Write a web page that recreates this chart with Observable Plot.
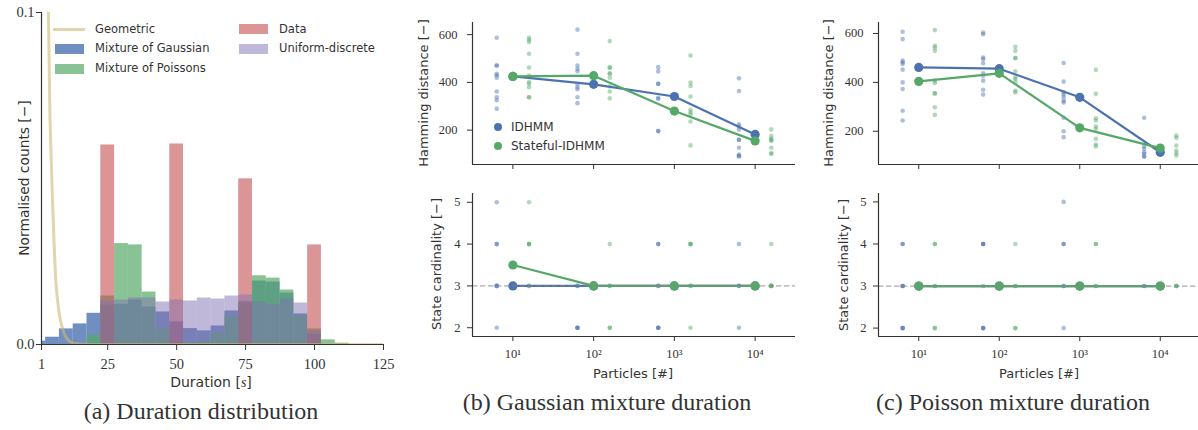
<!DOCTYPE html>
<html>
<head>
<meta charset="utf-8">
<script src="https://cdn.jsdelivr.net/npm/d3@7"></script>
<script src="https://cdn.jsdelivr.net/npm/@observablehq/plot@0.6"></script>
<style>
  html,body{margin:0;padding:0;background:#fff;}
  #root{position:relative;width:1198px;height:430px;overflow:hidden;background:#fff;}
  #root svg{position:absolute;overflow:visible;}
  .t{position:absolute;white-space:nowrap;color:#333;line-height:1;}
  .sw{position:absolute;}
</style>
</head>
<body>
<div id="root"></div>
<script>
// ================= DATA =================
// (a) Duration distribution — histogram bin centres [s] (bin width 5) and normalised counts
const binCenters     = [0, 5, 10, 15, 20, 25, 30, 35, 40, 45, 50, 55, 60, 65, 70, 75, 80, 85, 90, 95, 100, 105, 110];
const gaussCounts    = [0.0010,0.0022,0.0047,0.0062,0.0094,0.0119,0.0121,0.0134,0.0113,0.0098,0.0068,0.0048,0.0041,0.0056,0.0101,0.0125,0.0191,0.0188,0.0155,0.0092,0.0030,0,0];
const poissonCounts  = [0,0,0,0,0.0028,0.0146,0.0304,0.0300,0.0158,0.0048,0.0010,0.0005,0.0010,0.0036,0.0086,0.0130,0.0207,0.0200,0.0164,0.0086,0.0047,0.0014,0.0004];
const dataCounts     = [0,0,0,0,0,0.0601,0,0,0,0,0.0604,0,0,0,0,0.0499,0,0,0,0,0.0300,0,0];
const uniformCounts  = [0,0,0,0,0,0.0131,0.0134,0.0140,0.0140,0.0128,0.0134,0.0131,0.0140,0.0137,0.0146,0.0149,0.0128,0.0120,0.0137,0.0125,0.0040,0,0];
// geometric duration pmf (line)
const geomDuration   = [1, 2, 3, 3.5, 4, 4.5, 5, 5.5, 6, 6.5, 7, 7.5, 8, 9, 10, 11, 12, 14, 17, 20, 125];
const geomProb       = [0.45,0.25,0.135,0.1,0.072,0.056,0.043,0.032,0.022,0.016,0.012,0.009,0.0068,0.0038,0.002,0.0011,0.0006,0.0002,0.00005,0,0];
const durationTicks  = [1, 25, 50, 75, 100, 125];
const countTicks     = [0, 0.1];

// (b),(c) experiments
const particles = [10, 100, 1000, 10000];
const hammingTicks = [200, 400, 600];
const cardinalityTicks = [2, 3, 4, 5];
const trueCardinality = 3;

// (b) Gaussian mixture duration — Hamming distance per run
const gaussIdhmmHamming = [
  [587, 471, 471, 436, 430, 420, 362, 338, 325, 290],
  [621, 520, 471, 457, 447, 392, 380, 371, 338, 313],
  [464, 446, 394, 394, 336, 330, 196, 196],
  [417, 364, 224, 215, 202, 160, 160, 126, 98, 91, 91]
];
const gaussStatefulHamming = [
  [587, 578, 569, 520, 462, 429, 401, 394, 380, 338, 338],
  [573, 462, 462, 437, 437, 420, 383, 362, 333],
  [513, 399, 385, 341, 285, 275, 266, 236, 136],
  [203, 175, 164, 157, 157, 126, 104, 100]
];
const gaussIdhmmHammingMean    = [425, 392, 341, 182];
const gaussStatefulHammingMean = [425, 428, 280, 155];
// (b) state cardinality per run
const gaussIdhmmCard = [[5,4,4,3,3,3,2],[3,3,2,2,2],[4,4,3,3,2,2,2],[4,3,3,2]];
const gaussStatefulCard = [[5,4,4,4,3,3],[4,3,3,2,2],[4,4,4,3,3,2],[4,3,3,3,3]];
const gaussIdhmmCardMean = [3, 3, 3, 3];
const gaussStatefulCardMean = [3.5, 3, 3, 3];

// (c) Poisson mixture duration — Hamming distance per run
const poisIdhmmHamming = [
  [607, 577, 489, 482, 475, 452, 400, 373, 284, 244],
  [604, 597, 502, 495, 478, 437, 427, 407, 370, 350],
  [479, 403, 359, 350, 339, 325, 318, 255, 200, 176],
  [255, 138, 128, 114, 108, 97, 97]
];
const poisStatefulHamming = [
  [614, 550, 543, 529, 407, 397, 355, 355, 298, 267],
  [546, 529, 500, 500, 445, 420, 414, 400, 366, 359],
  [451, 353, 253, 244, 219, 210, 169, 146, 138],
  [182, 173, 142, 121, 110, 101]
];
const poisIdhmmHammingMean    = [461, 456, 339, 114];
const poisStatefulHammingMean = [404, 437, 214, 131];
// (c) state cardinality per run
const poisIdhmmCard = [[4,4,3,3,3,2,2,2],[4,4,4,3,2,2,2],[5,4,4,3,3,2],[3,3]];
const poisStatefulCard = [[4,4,3,3,2,2],[4,3,3,2,2],[4,4,3,3],[3,3,3]];
const poisIdhmmCardMean = [3, 3, 3, 3];
const poisStatefulCardMean = [3, 3, 3, 3];

// ================= STYLE =================
const COL = {blue:"#4C72B0", green:"#55A868", red:"#C44E52", purple:"#8172B2", yellow:"#CCB974"};
const INK = "#333";
const root = document.getElementById("root");

function txt(html, x, y, o = {}) {
  const d = document.createElement("div");
  d.className = "t";
  d.innerHTML = html;
  d.style.left = x + "px"; d.style.top = y + "px";
  d.style.fontFamily = o.family || "DejaVu Sans";
  d.style.fontSize = (o.size || 12) + "px";
  const ax = o.align === "left" ? "0" : "-50%";
  d.style.transform = `translate(${ax},-50%)` + (o.rotate ? ` rotate(${o.rotate}deg)` : "");
  root.appendChild(d);
}
function swatch(x, y, w, h, color) {
  const d = document.createElement("div");
  d.className = "sw";
  d.style.cssText += `left:${x}px;top:${y}px;width:${w}px;height:${h}px;background:${color};`;
  root.appendChild(d);
  return d;
}
function place(svg, left, top) {
  svg.style.left = left + "px"; svg.style.top = top + "px";
  root.appendChild(svg);
}
const superscript = {1:"¹",2:"²",3:"³",4:"⁴"};

// ================= PANEL (a) =================
const histRows = binCenters.map((c, i) => ({c, gauss: gaussCounts[i], pois: poissonCounts[i], data: dataCounts[i], unif: uniformCounts[i]}));
const binWidth = 5;
const geomRows = geomDuration.map((x, i) => ({x, y: geomProb[i]}));
const histRect = (key, color, op) => Plot.rect(histRows, {
  x1: d => d.c - binWidth / 2, x2: d => d.c + binWidth / 2, y1: d => 0, y2: key,
  fill: color, fillOpacity: op, inset: 0, clip: true
});
const pa = Plot.plot({
  width: 400, height: 372,
  marginLeft: 41, marginRight: 17, marginTop: 12, marginBottom: 28,
  style: {background: "transparent", color: INK, fontFamily: "Liberation Serif", fontSize: "14.5px", overflow: "visible"},
  x: {domain: [1, 125], label: null},
  y: {domain: [0, 0.1], label: null},
  marks: [
    histRect("gauss", COL.blue, 0.8),
    histRect("pois", COL.green, 0.7),
    histRect("data", COL.red, 0.6),
    histRect("unif", COL.purple, 0.5),
    Plot.line(geomRows, {x: "x", y: "y", stroke: COL.yellow, strokeOpacity: 0.6, strokeWidth: 3, curve: "monotone-x", clip: true}),
    Plot.ruleY([0], {stroke: INK, strokeWidth: 1.2}),
    Plot.ruleX([1], {stroke: INK, strokeWidth: 1.2}),
    Plot.axisX({ticks: durationTicks, tickSize: 6, tickPadding: 8, tickFormat: d => String(d), label: null}),
    Plot.axisY({ticks: countTicks, tickSize: 5, tickPadding: 2, tickFormat: d3.format(".1f"), label: null})
  ]
});
place(pa, 0, 0);

// legend (a)
swatch(53, 28, 32, 3, "rgba(204,185,116,0.6)");
txt("Geometric", 95, 30, {align: "left", size: 11.5});
swatch(55, 44, 29, 10, "rgba(76,114,176,0.8)");
txt("Mixture of Gaussian", 95, 49, {align: "left", size: 11.5});
swatch(55, 64, 29, 10, "rgba(85,168,104,0.7)");
txt("Mixture of Poissons", 95, 69, {align: "left", size: 11.5});
swatch(239, 24, 29, 10, "rgba(196,78,82,0.6)");
txt("Data", 279, 30, {align: "left", size: 11.5});
swatch(239, 44, 29, 10, "rgba(129,114,178,0.5)");
txt("Uniform-discrete", 279, 49, {align: "left", size: 11.5});

txt("Normalised counts [−]", 25, 178, {rotate: -90, size: 13.8});
txt('Duration [<i style="font-family:Liberation Serif">s</i>]', 211, 382, {size: 14});
txt("(a) Duration distribution", 201, 411, {family: "Liberation Serif", size: 24});

// ================= PANELS (b), (c) =================
const xDomain = [10 ** 0.5, 10 ** 4.5];
const stripShift = 10 ** 0.2;   // horizontal dodge of strip points on the log axis

function strip(arrs, shift) {
  const out = [];
  arrs.forEach((vals, i) => vals.forEach(v => out.push({x: particles[i] * shift, y: v})));
  return out;
}
function means(vals) { return vals.map((v, i) => ({x: particles[i], y: v})); }

function expPanel({idh, sta, idhMean, staMean, yDomain, yTicks, width, mLeft, mRight, height, mTop, mBottom, showX, dashed, yPad, bigFirst}) {
  const marks = [
    Plot.dot(strip(idh, 1 / stripShift), {x: "x", y: "y", r: 2.3, fill: COL.blue, fillOpacity: 0.45}),
    Plot.dot(strip(sta, stripShift), {x: "x", y: "y", r: 2.3, fill: COL.green, fillOpacity: 0.45}),
    Plot.line(means(idhMean), {x: "x", y: "y", stroke: COL.blue, strokeWidth: 2.2}),
    Plot.dot(means(idhMean), {x: "x", y: "y", r: 4.6, fill: COL.blue}),
    Plot.line(means(staMean), {x: "x", y: "y", stroke: COL.green, strokeWidth: 2.2}),
    Plot.dot(means(staMean), {x: "x", y: "y", r: 4.6, fill: COL.green})
  ];
  if (dashed) marks.push(Plot.ruleY([trueCardinality], {stroke: "#888", strokeOpacity: 0.7, strokeWidth: 1.2, strokeDasharray: "5.5,2.5"}));
  marks.push(
    Plot.ruleY([yDomain[0]], {stroke: INK, strokeWidth: 1.2}),
    Plot.ruleX([xDomain[0]], {stroke: INK, strokeWidth: 1.2}),
    Plot.axisX({ticks: particles, tickSize: 5, tickPadding: 8, label: null,
      tickFormat: showX ? (d => "10" + superscript[Math.round(Math.log10(d))]) : (() => "")}),
    Plot.axisY({ticks: yTicks, tickSize: 5, tickPadding: yPad, label: null, tickFormat: d => String(d)})
  );
  return Plot.plot({
    width, height, marginLeft: mLeft, marginRight: mRight, marginTop: mTop, marginBottom: mBottom,
    style: {background: "transparent", color: INK, fontFamily: "Liberation Serif", fontSize: "12.5px", overflow: "visible"},
    x: {type: "log", domain: xDomain, label: null},
    y: {domain: yDomain, label: null},
    marks
  });
}

// (b) top
place(expPanel({idh: gaussIdhmmHamming, sta: gaussStatefulHamming, idhMean: gaussIdhmmHammingMean, staMean: gaussStatefulHammingMean,
  yDomain: [56, 651], yTicks: hammingTicks, width: 400, mLeft: 72, mRight: 5, height: 176, mTop: 22, mBottom: 12, showX: false, dashed: false, yPad: 10}), 400, 0);
// (b) bottom
place(expPanel({idh: gaussIdhmmCard, sta: gaussStatefulCard, idhMean: gaussIdhmmCardMean, staMean: gaussStatefulCardMean,
  yDomain: [1.79, 5.21], yTicks: cardinalityTicks, width: 400, mLeft: 72, mRight: 5, height: 192, mTop: 13, mBottom: 36, showX: true, dashed: true, yPad: 7}), 400, 180);
// (c) top
place(expPanel({idh: poisIdhmmHamming, sta: poisStatefulHamming, idhMean: poisIdhmmHammingMean, staMean: poisStatefulHammingMean,
  yDomain: [64, 645], yTicks: hammingTicks, width: 402, mLeft: 78, mRight: 2, height: 176, mTop: 22, mBottom: 12, showX: false, dashed: false, yPad: 10}), 800, 0);
// (c) bottom
place(expPanel({idh: poisIdhmmCard, sta: poisStatefulCard, idhMean: poisIdhmmCardMean, staMean: poisStatefulCardMean,
  yDomain: [1.8, 5.2], yTicks: cardinalityTicks, width: 402, mLeft: 78, mRight: 2, height: 192, mTop: 13, mBottom: 36, showX: true, dashed: true, yPad: 7}), 800, 180);

// legend (b)
function legendDot(x, y, color) {
  const d = swatch(x - 4, y - 4, 8, 8, color);
  d.style.borderRadius = "50%";
}
legendDot(498, 127, COL.blue);
txt("IDHMM", 511, 127, {align: "left", size: 12});
legendDot(498, 146, COL.green);
txt("Stateful-IDHMM", 511, 146, {align: "left", size: 12});

// axis titles & captions (b), (c)
txt("Hamming distance [−]", 423, 93, {rotate: -90, size: 13});
txt("State cardinality [−]", 436, 264, {rotate: -90, size: 13});
txt("Particles [#]", 633, 373, {size: 13});
txt("(b) Gaussian mixture duration", 607, 402, {family: "Liberation Serif", size: 24});

txt("Hamming distance [−]", 828, 93, {rotate: -90, size: 13});
txt("State cardinality [−]", 843, 265, {rotate: -90, size: 13});
txt("Particles [#]", 1039, 373, {size: 13});
txt("(c) Poisson mixture duration", 1013, 402, {family: "Liberation Serif", size: 24});
</script>
</body>
</html>
